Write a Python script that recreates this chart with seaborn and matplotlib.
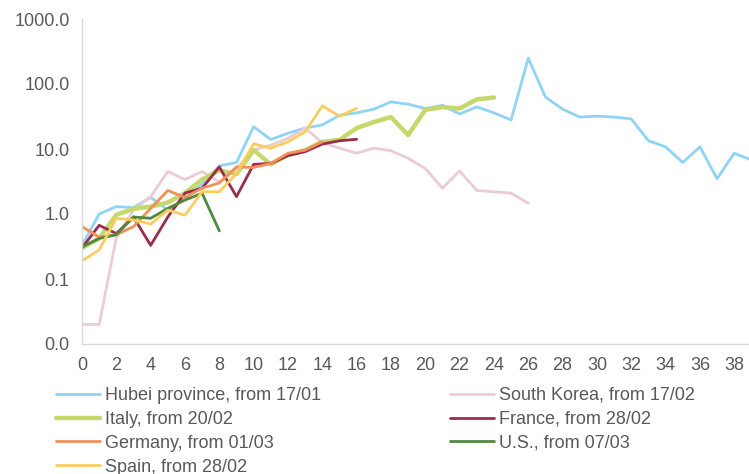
import numpy as np
import pandas as pd
import matplotlib
matplotlib.use("Agg")
import matplotlib.pyplot as plt
import seaborn as sns

# Daily new cases per million inhabitants, by days since the start of the outbreak
hubei = [0.33, 1.0, 1.3, 1.25, 1.8, 1.15, 1.7, 2.9, 5.5, 6.2, 22, 14, 17.5, 21, 23.5,
         33, 36, 41, 53, 49, 42, 47, 34.5, 44.5, 36, 28, 250, 63, 41, 31,
         32, 31, 29, 13.4, 10.8, 6.2, 10.8, 3.5, 8.6, 6.8]
south_korea = [0.02, 0.02, 0.43, 1.15, 1.85, 4.5, 3.4, 4.5, 3.1, 5.0, 9.6, 11.5, 14.6,
               21, 12.5, 10.3, 8.6, 10.3, 9.4, 7.2, 5.0, 2.5, 4.6, 2.3, 2.2, 2.1, 1.46]
italy = [0.3, 0.42, 0.97, 1.2, 1.3, 1.5, 2.1, 3.4, 4.7, 4.1, 9.6, 5.8, 8.1, 9.6, 12.9,
         13.8, 21, 26, 31, 16.4, 40, 44, 42, 58, 62]
france = [0.3, 0.67, 0.5, 0.9, 0.33, 0.9, 2.1, 2.5, 5.3, 1.85, 5.8, 6.0, 7.9, 9.1,
          11.9, 13.4, 14.1]
germany = [0.64, 0.44, 0.48, 0.64, 1.22, 2.3, 1.8, 2.5, 3.0, 5.3, 5.2, 6.0, 8.6, 9.6, 12.9]
us = [0.31, 0.42, 0.48, 0.9, 0.86, 1.22, 1.64, 2.08, 0.55]
spain = [0.19, 0.28, 0.86, 0.81, 0.7, 1.15, 0.96, 2.2, 2.2, 4.2, 12.0, 10.3, 12.9,
         18.4, 46, 32, 42]

labels = ["Hubei province, from 17/01", "South Korea, from 17/02", "Italy, from 20/02",
          "France, from 28/02", "Germany, from 01/03", "U.S., from 07/03",
          "Spain, from 28/02"]
series = [hubei, south_korea, italy, france, germany, us, spain]
colors = ["#8fd4f5", "#eacbd6", "#c6d86c", "#9a2d49", "#f2905a", "#4f8a3d", "#fbcd5e"]
widths = [2.0, 2.0, 3.2, 2.0, 2.0, 2.0, 2.0]

y_ticks = [0.01, 0.1, 1, 10, 100, 1000]
x_ticks = list(range(0, 40, 2))

frames = [pd.DataFrame({"day": np.arange(len(v)), "cases": v, "series": lab})
          for v, lab in zip(series, labels)]
df = pd.concat(frames, ignore_index=True)

sns.set_theme(style="white")
plt.rcParams["font.family"] = ["Liberation Sans", "DejaVu Sans"]
grey = "#595959"
spine_c = "#d9d9d9"

fig = plt.figure(figsize=(7.49, 4.74), dpi=100)
ax = fig.add_axes([82 / 749, 130 / 474, 1 - 82 / 749, (344 - 19) / 474])

handles = {}
for lab, col, lw in zip(labels, colors, widths):
    sns.lineplot(data=df[df["series"] == lab], x="day", y="cases", color=col,
                 linewidth=lw, ax=ax, legend=False)
    handles[lab] = ax.lines[-1]

ax.set_yscale("log")
ax.set_ylim(0.01, 1000)
ax.set_xlim(0, 38.86)
ax.set_yticks(y_ticks)
ax.set_yticklabels([f"{t:.1f}" for t in y_ticks])
ax.set_xticks(x_ticks)
ax.set_xticklabels([str(t) for t in x_ticks])
ax.minorticks_off()
ax.set_xlabel("")
ax.set_ylabel("")

for side in ["top", "right"]:
    ax.spines[side].set_visible(False)
for side in ["left", "bottom"]:
    ax.spines[side].set_color(spine_c)
    ax.spines[side].set_linewidth(1.0)
ax.tick_params(axis="both", which="major", direction="out", length=4, width=1.0,
               color=spine_c, labelcolor=grey, labelsize=13, pad=5)
ax.tick_params(axis="x", pad=5)

col1 = [labels[0], labels[2], labels[4], labels[6]]
col2 = [labels[1], labels[3], labels[5]]
common = dict(frameon=False, fontsize=13, handlelength=2.45, handletextpad=0.25,
              labelspacing=0.38, borderpad=0, borderaxespad=0, loc="upper left",
              labelcolor=grey)
leg1 = fig.legend([handles[l] for l in col1], col1,
                  bbox_to_anchor=(56 / 749, 1 - 387 / 474), **common)
leg2 = fig.legend([handles[l] for l in col2], col2,
                  bbox_to_anchor=(450 / 749, 1 - 387 / 474), **common)

fig.savefig("out.png", dpi=100)
